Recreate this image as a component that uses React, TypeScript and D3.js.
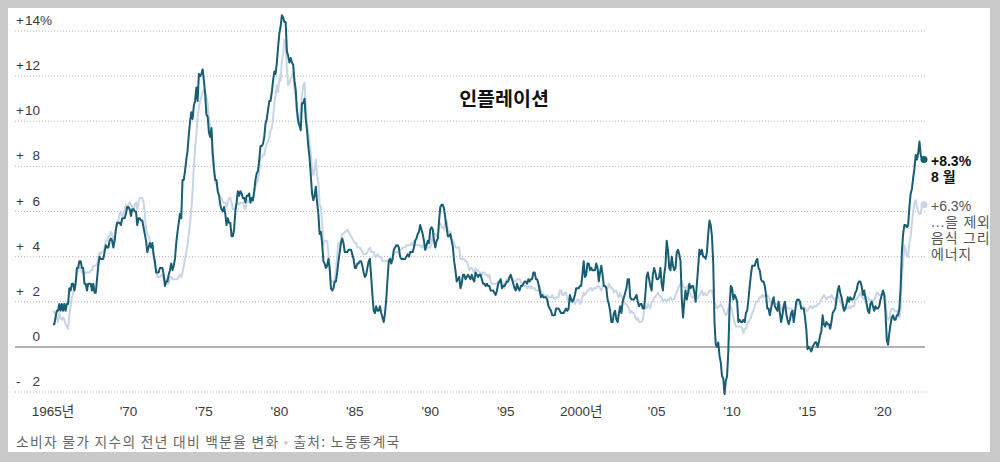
import { useEffect, useRef } from 'react'
import * as d3 from 'd3'

const startYear = 1965

// 전년 대비 소비자 물가 (월별, %)
const headline = [
  1.0, 1.0, 1.3, 1.6, 1.6, 1.9, 1.6, 1.9, 1.6, 1.9, 1.6, 1.9, // 1965
  1.9, 2.6, 2.5, 2.8, 2.8, 2.5, 2.8, 3.5, 3.5, 3.8, 3.8, 3.5,
  3.5, 2.8, 2.8, 2.5, 2.8, 2.8, 2.8, 2.5, 2.8, 2.4, 2.4, 3.0,
  3.6, 4.0, 3.9, 3.9, 3.9, 4.2, 4.5, 4.4, 4.4, 4.7, 4.8, 4.7,
  4.4, 4.7, 5.2, 5.5, 5.5, 5.5, 5.4, 5.7, 5.7, 5.7, 5.9, 6.2,
  6.2, 6.1, 5.8, 6.1, 6.1, 6.0, 6.0, 5.4, 5.7, 5.7, 5.6, 5.6, // 1970
  5.3, 5.0, 4.7, 4.2, 4.4, 4.6, 4.4, 4.6, 4.1, 3.8, 3.3, 3.3,
  3.3, 3.5, 3.5, 3.5, 3.2, 2.7, 2.9, 2.9, 3.2, 3.4, 3.7, 3.4,
  3.6, 3.9, 4.6, 5.1, 5.5, 5.9, 5.7, 7.4, 7.4, 7.8, 8.3, 8.7,
  9.4, 10.0, 10.4, 10.1, 10.7, 10.9, 11.5, 10.9, 12.1, 12.0, 12.1, 12.3,
  11.8, 11.2, 10.3, 10.2, 9.5, 9.3, 9.7, 8.6, 7.9, 7.4, 7.4, 6.9, // 1975
  6.7, 6.3, 6.1, 6.0, 6.2, 5.9, 5.4, 5.7, 5.5, 5.5, 4.9, 4.9,
  5.2, 6.0, 6.4, 6.9, 6.7, 6.9, 6.8, 6.6, 6.6, 6.4, 6.7, 6.7,
  6.8, 6.4, 6.6, 6.5, 6.9, 7.4, 7.7, 7.8, 8.3, 8.9, 8.9, 9.0,
  9.3, 9.9, 10.1, 10.5, 10.9, 10.9, 11.3, 11.8, 12.2, 12.1, 12.6, 13.3,
  13.9, 14.2, 14.7, 14.6, 14.4, 14.4, 13.1, 12.9, 12.6, 12.8, 12.6, 12.5, // 1980
  11.8, 11.4, 10.5, 10.0, 9.8, 9.6, 10.8, 10.8, 11.0, 10.1, 9.6, 8.9,
  8.4, 7.6, 6.8, 6.5, 6.7, 7.1, 6.4, 5.9, 5.0, 5.1, 4.6, 3.8,
  3.7, 3.5, 3.6, 3.9, 3.5, 2.6, 2.5, 2.6, 2.9, 2.9, 3.3, 3.8,
  4.2, 4.6, 4.8, 4.6, 4.2, 4.2, 4.2, 4.3, 4.3, 4.3, 4.1, 3.9,
  3.5, 3.5, 3.7, 3.7, 3.8, 3.8, 3.6, 3.3, 3.1, 3.2, 3.5, 3.8, // 1985
  3.9, 3.1, 2.3, 1.6, 1.5, 1.8, 1.6, 1.6, 1.8, 1.5, 1.3, 1.1,
  1.5, 2.1, 3.0, 3.8, 3.9, 3.7, 3.9, 4.3, 4.4, 4.5, 4.5, 4.4,
  4.0, 3.9, 3.9, 3.9, 3.9, 4.0, 4.1, 4.0, 4.2, 4.2, 4.2, 4.4,
  4.7, 4.8, 5.0, 5.1, 5.4, 5.2, 5.0, 4.7, 4.3, 4.5, 4.7, 4.6,
  5.2, 5.3, 5.2, 4.7, 4.4, 4.7, 4.8, 5.6, 6.2, 6.3, 6.3, 6.1, // 1990
  5.7, 5.3, 4.9, 4.9, 5.0, 4.7, 4.4, 3.8, 3.4, 2.9, 3.0, 3.1,
  2.6, 2.8, 3.2, 3.2, 3.0, 3.1, 3.2, 3.1, 3.0, 3.2, 3.0, 2.9,
  3.3, 3.2, 3.1, 3.2, 3.2, 3.0, 2.8, 2.8, 2.7, 2.8, 2.7, 2.7,
  2.5, 2.5, 2.5, 2.4, 2.3, 2.5, 2.8, 2.9, 3.0, 2.6, 2.7, 2.7,
  2.8, 2.9, 2.9, 3.1, 3.2, 3.0, 2.8, 2.6, 2.5, 2.8, 2.6, 2.5, // 1995
  2.7, 2.7, 2.8, 2.9, 2.9, 2.8, 3.0, 2.9, 3.0, 3.0, 3.3, 3.3,
  3.0, 3.0, 2.8, 2.5, 2.2, 2.3, 2.2, 2.2, 2.2, 2.1, 1.8, 1.7,
  1.6, 1.4, 1.4, 1.4, 1.7, 1.7, 1.7, 1.6, 1.5, 1.5, 1.5, 1.6,
  1.7, 1.6, 1.7, 2.3, 2.1, 2.0, 2.1, 2.3, 2.6, 2.6, 2.6, 2.7,
  2.7, 3.2, 3.8, 3.1, 3.2, 3.7, 3.7, 3.4, 3.5, 3.4, 3.4, 3.4, // 2000
  3.7, 3.5, 2.9, 3.3, 3.6, 3.2, 2.7, 2.7, 2.6, 2.1, 1.9, 1.6,
  1.1, 1.1, 1.5, 1.6, 1.2, 1.1, 1.5, 1.8, 1.5, 2.0, 2.2, 2.4,
  2.6, 3.0, 3.0, 2.2, 2.1, 2.1, 2.1, 2.2, 2.3, 2.0, 1.8, 1.9,
  1.9, 1.7, 1.7, 2.3, 3.1, 3.3, 3.0, 2.7, 2.5, 3.2, 3.5, 3.3,
  3.0, 3.0, 3.1, 3.5, 2.8, 2.5, 3.2, 3.6, 4.7, 4.3, 3.5, 3.4, // 2005
  4.0, 3.6, 3.4, 3.5, 4.2, 4.3, 4.1, 3.8, 2.1, 1.3, 2.0, 2.5,
  2.1, 2.4, 2.8, 2.6, 2.7, 2.7, 2.4, 2.0, 2.8, 3.5, 4.3, 4.1,
  4.3, 4.0, 4.0, 3.9, 4.2, 5.0, 5.6, 5.4, 4.9, 3.7, 1.1, 0.1,
  0.0, 0.2, -0.4, -0.7, -1.3, -1.4, -2.1, -1.5, -1.3, -0.2, 1.8, 2.7,
  2.6, 2.1, 2.3, 2.2, 2.0, 1.1, 1.2, 1.1, 1.1, 1.2, 1.1, 1.5, // 2010
  1.6, 2.1, 2.7, 3.2, 3.6, 3.6, 3.6, 3.8, 3.9, 3.5, 3.4, 3.0,
  2.9, 2.9, 2.7, 2.3, 1.7, 1.7, 1.4, 1.7, 2.0, 2.2, 1.8, 1.7,
  1.6, 2.0, 1.5, 1.1, 1.4, 1.8, 2.0, 1.5, 1.2, 1.0, 1.2, 1.5,
  1.6, 1.1, 1.5, 2.0, 2.1, 2.1, 2.0, 1.7, 1.7, 1.7, 1.3, 0.8,
  -0.1, 0.0, -0.1, -0.2, 0.0, 0.1, 0.2, 0.2, 0.0, 0.2, 0.5, 0.7, // 2015
  1.4, 1.0, 0.9, 1.1, 1.0, 1.0, 0.8, 1.1, 1.5, 1.6, 1.7, 2.1,
  2.5, 2.7, 2.4, 2.2, 1.9, 1.6, 1.7, 1.9, 2.2, 2.0, 2.2, 2.1,
  2.1, 2.2, 2.4, 2.5, 2.8, 2.9, 2.9, 2.7, 2.3, 2.5, 2.2, 1.9,
  1.6, 1.5, 1.9, 2.0, 1.8, 1.6, 1.8, 1.7, 1.7, 1.8, 2.1, 2.3,
  2.5, 2.3, 1.5, 0.3, 0.1, 0.6, 1.0, 1.3, 1.4, 1.2, 1.2, 1.4, // 2020
  1.4, 1.7, 2.6, 4.2, 5.0, 5.4, 5.4, 5.3, 5.4, 6.2, 6.8, 7.0,
  7.5, 7.9, 8.5, 8.3, 8.6, 9.1, 8.5, 8.3,
]

// 음식과 에너지를 제외한 물가
const core = [
  1.6, 1.5, 1.5, 1.3, 1.1, 1.5, 1.3, 1.2, 1.3, 1.2, 1.0, 0.9, // 1965
  0.8, 1.4, 1.8, 2.2, 2.4, 2.6, 2.9, 3.2, 3.4, 3.5, 3.5, 3.3,
  3.3, 3.2, 3.3, 3.3, 3.3, 3.3, 3.4, 3.4, 3.6, 3.6, 3.6, 3.7,
  3.9, 4.2, 4.1, 4.2, 4.2, 4.4, 4.7, 4.7, 4.9, 4.9, 5.1, 5.0,
  4.6, 4.9, 5.2, 5.5, 5.6, 5.9, 6.0, 5.8, 5.8, 6.1, 6.3, 6.1,
  6.3, 6.4, 6.3, 6.2, 6.1, 6.3, 6.4, 6.1, 6.4, 6.6, 6.6, 6.6, // 1970
  6.4, 5.9, 5.2, 5.0, 4.9, 4.7, 4.4, 4.5, 3.9, 3.6, 3.4, 3.1,
  3.1, 3.1, 3.2, 3.2, 3.0, 3.0, 3.0, 2.8, 2.8, 3.1, 3.1, 3.0,
  3.0, 3.0, 3.0, 3.0, 3.1, 3.2, 3.1, 3.3, 3.6, 3.9, 4.2, 4.5,
  5.0, 5.5, 6.1, 6.9, 8.0, 8.8, 9.4, 10.2, 10.6, 10.9, 11.1, 11.3,
  11.4, 11.3, 11.1, 10.8, 10.1, 9.8, 9.2, 8.3, 7.7, 7.3, 7.2, 6.9, // 1975
  6.8, 6.6, 6.6, 6.4, 6.4, 6.4, 6.2, 6.4, 6.6, 6.6, 6.4, 6.1,
  6.1, 6.2, 6.3, 6.4, 6.3, 6.4, 6.4, 6.4, 6.2, 6.1, 6.4, 6.5,
  6.4, 6.4, 6.4, 6.5, 6.8, 7.1, 7.3, 7.4, 7.8, 8.4, 8.4, 8.5,
  8.5, 8.8, 9.0, 9.1, 9.3, 9.6, 9.7, 10.1, 10.8, 11.1, 11.6, 11.3,
  11.9, 11.8, 12.7, 13.0, 13.6, 13.4, 12.3, 11.6, 11.7, 11.9, 12.0, 12.2, // 1980
  11.4, 11.0, 10.3, 9.9, 10.0, 10.6, 11.1, 11.6, 11.7, 10.7, 9.9, 9.5,
  9.1, 8.6, 7.9, 7.6, 7.9, 8.3, 7.6, 7.3, 6.3, 6.2, 5.5, 4.5,
  4.7, 4.7, 4.7, 4.2, 3.5, 2.9, 2.9, 2.9, 3.0, 3.4, 4.1, 4.6,
  4.5, 4.8, 5.0, 5.0, 5.1, 5.1, 5.2, 5.1, 5.0, 4.9, 4.8, 4.7,
  4.6, 4.6, 4.4, 4.4, 4.4, 4.3, 4.2, 4.1, 4.1, 4.1, 4.2, 4.3, // 1985
  4.4, 4.2, 4.2, 4.2, 4.0, 4.0, 4.1, 4.0, 4.0, 4.0, 3.8, 3.8,
  3.8, 3.8, 3.8, 3.9, 3.8, 3.7, 3.9, 4.1, 4.2, 4.2, 4.2, 4.2,
  4.3, 4.3, 4.4, 4.4, 4.4, 4.5, 4.5, 4.5, 4.5, 4.6, 4.5, 4.7,
  4.5, 4.5, 4.5, 4.5, 4.5, 4.4, 4.5, 4.4, 4.3, 4.4, 4.4, 4.4,
  4.4, 4.6, 5.0, 5.0, 5.0, 4.9, 5.0, 5.4, 5.5, 5.3, 5.3, 5.2, // 1990
  5.6, 5.6, 5.2, 5.1, 5.1, 4.8, 4.7, 4.6, 4.4, 4.4, 4.4, 4.4,
  3.9, 3.9, 3.9, 3.9, 3.8, 3.8, 3.6, 3.4, 3.5, 3.5, 3.4, 3.3,
  3.5, 3.4, 3.4, 3.3, 3.3, 3.2, 3.3, 3.3, 3.2, 3.2, 3.1, 3.2,
  2.9, 2.8, 2.8, 2.8, 2.8, 2.8, 2.9, 2.9, 2.9, 2.8, 2.8, 2.6,
  2.9, 3.0, 3.0, 3.1, 3.1, 3.0, 3.0, 2.9, 2.9, 3.0, 3.0, 3.0, // 1995
  2.9, 2.7, 2.7, 2.7, 2.7, 2.6, 2.7, 2.6, 2.7, 2.6, 2.6, 2.6,
  2.5, 2.5, 2.5, 2.7, 2.5, 2.4, 2.3, 2.3, 2.2, 2.3, 2.2, 2.2,
  2.2, 2.3, 2.2, 2.1, 2.2, 2.2, 2.2, 2.5, 2.5, 2.3, 2.3, 2.4,
  2.4, 2.1, 2.1, 2.2, 2.0, 2.1, 2.1, 1.9, 2.0, 2.1, 2.1, 1.9,
  2.0, 2.2, 2.4, 2.3, 2.4, 2.5, 2.5, 2.6, 2.6, 2.5, 2.6, 2.6, // 2000
  2.6, 2.7, 2.7, 2.6, 2.5, 2.7, 2.7, 2.7, 2.6, 2.6, 2.8, 2.7,
  2.6, 2.6, 2.4, 2.5, 2.5, 2.3, 2.2, 2.4, 2.2, 2.2, 2.0, 1.9,
  1.9, 1.8, 1.7, 1.5, 1.6, 1.5, 1.5, 1.3, 1.2, 1.3, 1.1, 1.1,
  1.1, 1.2, 1.6, 1.8, 1.7, 1.9, 1.8, 1.7, 2.0, 2.0, 2.2, 2.2,
  2.3, 2.4, 2.3, 2.2, 2.2, 2.0, 2.1, 2.1, 2.0, 2.1, 2.1, 2.2, // 2005
  2.1, 2.1, 2.1, 2.3, 2.4, 2.6, 2.7, 2.8, 2.9, 2.7, 2.6, 2.6,
  2.7, 2.7, 2.5, 2.3, 2.2, 2.2, 2.2, 2.1, 2.1, 2.2, 2.3, 2.4,
  2.5, 2.3, 2.4, 2.3, 2.3, 2.4, 2.5, 2.5, 2.5, 2.2, 2.0, 1.8,
  1.7, 1.8, 1.8, 1.9, 1.8, 1.7, 1.5, 1.4, 1.5, 1.7, 1.7, 1.8,
  1.6, 1.3, 1.1, 0.9, 0.9, 0.9, 0.9, 0.9, 0.8, 0.6, 0.8, 0.8, // 2010
  1.0, 1.1, 1.2, 1.3, 1.5, 1.6, 1.8, 2.0, 2.0, 2.1, 2.2, 2.2,
  2.3, 2.2, 2.3, 2.3, 2.3, 2.2, 2.1, 1.9, 2.0, 2.0, 1.9, 1.9,
  1.9, 2.0, 1.9, 1.7, 1.7, 1.6, 1.7, 1.8, 1.7, 1.7, 1.7, 1.7,
  1.6, 1.6, 1.7, 1.8, 2.0, 1.9, 1.9, 1.7, 1.7, 1.8, 1.7, 1.6,
  1.6, 1.7, 1.8, 1.8, 1.7, 1.8, 1.8, 1.8, 1.9, 1.9, 2.0, 2.1, // 2015
  2.2, 2.3, 2.2, 2.1, 2.2, 2.2, 2.2, 2.3, 2.2, 2.1, 2.1, 2.2,
  2.3, 2.2, 2.0, 1.9, 1.7, 1.7, 1.7, 1.7, 1.7, 1.8, 1.7, 1.8,
  1.8, 1.8, 2.1, 2.1, 2.2, 2.3, 2.4, 2.2, 2.2, 2.1, 2.2, 2.2,
  2.2, 2.1, 2.0, 2.1, 2.0, 2.1, 2.2, 2.4, 2.4, 2.3, 2.3, 2.3,
  2.3, 2.4, 2.1, 1.4, 1.2, 1.2, 1.6, 1.7, 1.7, 1.6, 1.6, 1.6, // 2020
  1.4, 1.3, 1.6, 3.0, 3.8, 4.5, 4.3, 4.0, 4.0, 4.6, 4.9, 5.5,
  6.0, 6.4, 6.5, 6.2, 6.0, 5.9, 5.9, 6.3,
]

const yTicks = [14, 12, 10, 8, 6, 4, 2, 0, -2]
const xTicks = [1965, 1970, 1975, 1980, 1985, 1990, 1995, 2000, 2005, 2010, 2015, 2020]
const xTickLabels = ['1965년', "'70", "'75", "'80", "'85", "'90", "'95", '2000년', "'05", "'10", "'15", "'20"]

const headlineNote = ['+8.3%', '8 월']
const coreNote = ['+6.3%', '...을 제외', '음식 그리', '에너지']

const latin = "'Liberation Sans', Arial, 'Noto Sans CJK KR', sans-serif"
const hangul = "'Noto Sans CJK KR', 'Liberation Sans', sans-serif"

export default function App() {
  const ref = useRef<SVGSVGElement>(null)

  useEffect(() => {
    if (!ref.current) return
    const width = 1000
    const height = 462
    const svg = d3.select(ref.current)
    svg.selectAll('*').remove()

    svg.append('rect').attr('width', width).attr('height', height).attr('fill', '#c9c9c9')
    svg.append('rect').attr('x', 8).attr('y', 8).attr('width', 982).attr('height', 444).attr('fill', '#fff')
    svg.append('defs').append('clipPath').attr('id', 'panel')
      .append('rect').attr('x', 8).attr('y', 8).attr('width', 982).attr('height', 444)

    const g = svg.append('g').attr('clip-path', 'url(#panel)')

    const x = d3.scaleLinear().domain([1965, 2020]).range([53, 883])
    const y = d3.scaleLinear().domain([-2, 14]).range([392, 31])
    const gridX0 = 15
    const gridX1 = 925

    // grid
    g.selectAll('line.grid')
      .data(yTicks.filter((v) => v !== 0))
      .join('line')
      .attr('x1', gridX0).attr('x2', gridX1)
      .attr('y1', (d) => y(d)).attr('y2', (d) => y(d))
      .attr('stroke', '#b5b5b5').attr('stroke-width', 1).attr('stroke-dasharray', '1,2')

    // y labels
    const yl = g.selectAll('g.ylab').data(yTicks).join('g')
      .attr('font-family', latin).attr('font-size', 13.5).attr('fill', '#3a3a3a')
    yl.append('text').attr('x', 16).attr('y', (d) => y(d) - 6)
      .text((d) => (d > 0 ? '+' : d < 0 ? '-' : ''))
    yl.append('text').attr('x', 40).attr('y', (d) => y(d) - 6).attr('text-anchor', 'end')
      .text((d) => Math.abs(d))
    yl.filter((d) => d === 14).append('text').attr('x', 40).attr('y', (d) => y(d) - 6).text('%')

    // zero line
    g.append('line')
      .attr('x1', gridX0).attr('x2', gridX1).attr('y1', y(0)).attr('y2', y(0))
      .attr('stroke', '#999').attr('stroke-width', 1.5)

    // x labels
    g.selectAll('text.xlab').data(xTicks).join('text')
      .attr('x', (d) => x(d)).attr('y', 416).attr('text-anchor', 'middle')
      .attr('font-family', latin).attr('font-size', 13.5).attr('fill', '#3a3a3a')
      .text((d, i) => xTickLabels[i])

    const t = (i: number) => startYear + i / 12
    const line = d3.line<number>().x((d, i) => x(t(i))).y((d) => y(d))

    g.append('path').datum(core).attr('d', line)
      .attr('fill', 'none').attr('stroke', '#c9d5e6').attr('stroke-width', 2).attr('stroke-linejoin', 'round')
    g.append('path').datum(headline).attr('d', line)
      .attr('fill', 'none').attr('stroke', '#175d73').attr('stroke-width', 2).attr('stroke-linejoin', 'round')

    // end points
    const hEnd = headline.length - 1
    const cEnd = core.length - 1
    g.append('circle').attr('cx', x(t(hEnd)) + 2).attr('cy', y(headline[hEnd])).attr('r', 3.5).attr('fill', '#175d73')
    g.append('circle').attr('cx', x(t(cEnd)) + 2).attr('cy', y(core[cEnd])).attr('r', 3.5).attr('fill', '#c9d5e6')

    g.selectAll('text.hnote').data(headlineNote).join('text')
      .attr('x', 931).attr('y', (d, i) => y(headline[hEnd]) + 6 + i * 16)
      .attr('font-family', latin).attr('font-weight', 700).attr('font-size', 14).attr('fill', '#111')
      .text((d) => d)

    g.selectAll('text.cnote').data(coreNote).join('text')
      .attr('x', 931).attr('y', (d, i) => y(core[cEnd]) + 6 + i * 16)
      .attr('font-family', latin).attr('font-size', 14).attr('fill', '#555')
      .attr('letter-spacing', (d, i) => (i === 0 ? 0 : 0.8))
      .text((d) => d)

    // title
    g.append('text').attr('x', 504).attr('y', 106).attr('text-anchor', 'middle')
      .attr('font-family', hangul).attr('font-weight', 700).attr('font-size', 19.5).attr('fill', '#111')
      .text('인플레이션')

    // footer
    const foot = g.append('text').attr('x', 16).attr('y', 447)
      .attr('font-family', hangul).attr('font-size', 13.75).attr('fill', '#666').attr('letter-spacing', 1.3)
    foot.append('tspan').text('소비자 물가 지수의 전년 대비 백분율 변화')
    foot.append('tspan').attr('dx', 4).attr('fill', '#ccc').text('•')
    foot.append('tspan').attr('dx', 4).text('출처: 노동통계국')
  }, [])

  return (
    <div style={{ position: 'fixed', left: 0, top: 0 }}>
      <svg ref={ref} width={1000} height={462} style={{ display: 'block' }} />
    </div>
  )
}
